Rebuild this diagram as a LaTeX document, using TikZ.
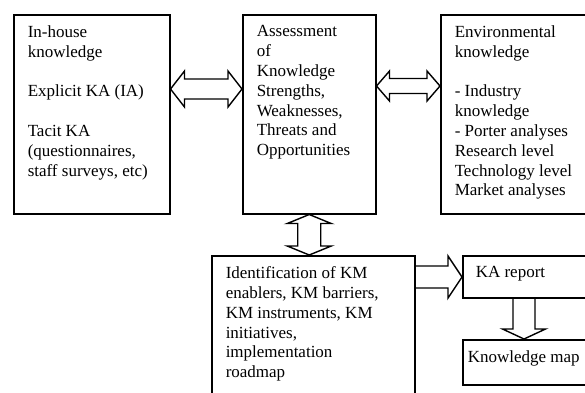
\documentclass[tikz,border=0pt]{standalone}
\usepackage{fontspec}
\setmainfont{Liberation Serif}
\usetikzlibrary{calc}

\tikzset{
  kbox/.style={draw=black, line width=1.5pt, anchor=north west, inner ysep=0pt,
    inner xsep=#1, font=\fontsize{17}{19.8}\selectfont},
  kbox/.default=14pt,
  blockarrow/.style={draw=black, line width=1.4pt, line join=miter},
}

% boxed text: height, width of the text column, lines
\newcommand\boxtext[3]{\parbox[c][#1][t]{#2}{\vspace*{11pt}\raggedright #3}}

% horizontal double block arrow: start, end, shaft half-width, head half-width, head length
\newcommand\hdouble[5]{%
  \draw[blockarrow] let \p1=(#1), \p2=(#2) in
    (\x1,\y1) -- (\x1+#5,\y1+#4) -- (\x1+#5,\y1+#3) -- (\x2-#5,\y1+#3) -- (\x2-#5,\y1+#4)
    -- (\x2,\y1) -- (\x2-#5,\y1-#4) -- (\x2-#5,\y1-#3) -- (\x1+#5,\y1-#3) -- (\x1+#5,\y1-#4) -- cycle;}
% vertical double block arrow, top to bottom
\newcommand\vdouble[5]{%
  \draw[blockarrow] let \p1=(#1), \p2=(#2) in
    (\x1,\y1) -- (\x1+#4,\y1-#5) -- (\x1+#3,\y1-#5) -- (\x1+#3,\y2+#5) -- (\x1+#4,\y2+#5)
    -- (\x1,\y2) -- (\x1-#4,\y2+#5) -- (\x1-#3,\y2+#5) -- (\x1-#3,\y1-#5) -- (\x1-#4,\y1-#5) -- cycle;}
% single block arrow pointing right, open at its tail
\newcommand\hsingle[5]{%
  \draw[blockarrow] let \p1=(#1), \p2=(#2) in
    (\x1,\y1+#3) -- (\x2-#5,\y1+#3) -- (\x2-#5,\y1+#4) -- (\x2,\y1)
    -- (\x2-#5,\y1-#4) -- (\x2-#5,\y1-#3) -- (\x1,\y1-#3);}
% single block arrow pointing down, open at its tail
\newcommand\vsingle[5]{%
  \draw[blockarrow] let \p1=(#1), \p2=(#2) in
    (\x1+#3,\y1) -- (\x1+#3,\y2+#5) -- (\x1+#4,\y2+#5) -- (\x1,\y2)
    -- (\x1-#4,\y2+#5) -- (\x1-#3,\y2+#5) -- (\x1-#3,\y1);}

\begin{document}
\begin{tikzpicture}[x=1pt, y=-1pt]
\useasboundingbox (0,0) rectangle (585,392);
\clip (0,0) rectangle (585,392);

\node[kbox] (inhouse) at (13,14) {\boxtext{199pt}{128pt}{In-house\\knowledge\\[19.8pt]Explicit KA (IA)\\[19.8pt]Tacit KA\\(questionnaires,\\staff surveys, etc)}};
\node[kbox] (assess) at (242,14) {\boxtext{199pt}{105pt}{Assessment\\of\\Knowledge\\Strengths,\\Weaknesses,\\Threats and\\Opportunities}};
\node[kbox] (env) at (440,14) {\boxtext{199pt}{132pt}{Environmental\\knowledge\\[19.8pt]- Industry\\knowledge\\- Porter analyses\\Research level\\Technology level\\Market analyses}};
\node[kbox] (ident) at (211,255) {\boxtext{160pt}{175pt}{Identification of KM\\enablers, KM barriers,\\KM instruments, KM\\initiatives,\\implementation\\roadmap}};
\node[kbox=13pt] (karep) at (462,255) {\boxtext{42pt}{114pt}{KA report}};
\node[kbox=5pt] (kmap) at (462,339) {\boxtext{45pt}{130pt}{Knowledge map}};

% connectors
\coordinate (a1) at ($(inhouse.north east)+(0,75)$);
\coordinate (a2) at (assess.west |- a1);
\hdouble{a1}{a2}{10pt}{18pt}{14pt}

\coordinate (b1) at ($(assess.north east)+(0,72)$);
\coordinate (b2) at (env.west |- b1);
\hdouble{b1}{b2}{7.5pt}{15pt}{13pt}

\coordinate (c1) at (assess.south);
\coordinate (c2) at (assess.south |- ident.north);
\vdouble{c1}{c2}{11.5pt}{22pt}{9pt}

\coordinate (d1) at ($(ident.north east)+(0,22)$);
\coordinate (d2) at (karep.west |- d1);
\hsingle{d1}{d2}{11pt}{21pt}{14pt}

\coordinate (e1) at ($(karep.south west)+(62,0)$);
\coordinate (e2) at (e1 |- kmap.north);
\vsingle{e1}{e2}{11pt}{21.5pt}{10pt}
\end{tikzpicture}
\end{document}
